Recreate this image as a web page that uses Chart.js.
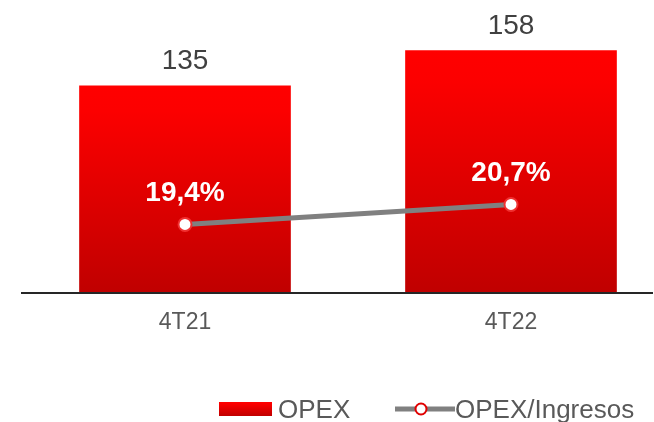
<!DOCTYPE html>
<html>
<head>
<meta charset="utf-8">
<script src="https://cdn.jsdelivr.net/npm/chart.js@4"></script>
<style>
  html, body { margin: 0; padding: 0; background: #fff; }
  canvas { display: block; }
</style>
</head>
<body>
<canvas id="chart" width="654" height="422"></canvas>
<script>
const categories = ['4T21', '4T22'];
const opex = [135, 158];
const opexRatio = [19.4, 20.7];
const legendLabels = ['OPEX', 'OPEX/Ingresos'];

const FONT = "'Liberation Sans', Arial, sans-serif";

function redGradient(ctx, top, bottom) {
  const g = ctx.createLinearGradient(0, top, 0, bottom);
  g.addColorStop(0, '#ff0000');
  g.addColorStop(0.12, '#fc0000');
  g.addColorStop(1, '#c00000');
  return g;
}

const fmtPct = v => v.toFixed(1).replace('.', ',') + '%';

const labelsPlugin = {
  id: 'labels',
  afterDatasetsDraw(chart) {
    const ctx = chart.ctx;
    const yScale = chart.scales.y;
    // baseline
    const base = yScale.getPixelForValue(0);
    ctx.save();
    ctx.strokeStyle = '#262626';
    ctx.lineWidth = 2;
    ctx.beginPath();
    ctx.moveTo(21, base + 1);
    ctx.lineTo(653, base + 1);
    ctx.stroke();

    // bar values
    const barMeta = chart.getDatasetMeta(1);
    ctx.font = '28px ' + FONT;
    ctx.fillStyle = '#404040';
    ctx.textAlign = 'center';
    ctx.textBaseline = 'alphabetic';
    barMeta.data.forEach((bar, i) => {
      ctx.fillText(String(opex[i]), bar.x, bar.y - 17);
    });

    // ratio values
    const lineMeta = chart.getDatasetMeta(0);
    ctx.font = 'bold 28px ' + FONT;
    ctx.fillStyle = '#ffffff';
    lineMeta.data.forEach((pt, i) => {
      ctx.fillText(fmtPct(opexRatio[i]), pt.x, pt.y - 23);
    });
    ctx.restore();
  },
  afterDraw(chart) {
    const ctx = chart.ctx;
    ctx.save();
    // OPEX box
    ctx.fillStyle = redGradient(ctx, 402, 416);
    ctx.fillRect(219, 402, 53, 14);
    ctx.font = '26px ' + FONT;
    ctx.fillStyle = '#595959';
    ctx.textAlign = 'left';
    ctx.textBaseline = 'alphabetic';
    ctx.fillText(legendLabels[0], 278, 418);

    // ratio line symbol
    ctx.strokeStyle = '#808080';
    ctx.lineWidth = 5;
    ctx.beginPath();
    ctx.moveTo(395, 409);
    ctx.lineTo(455, 409);
    ctx.stroke();
    ctx.beginPath();
    ctx.arc(421, 409, 5.5, 0, Math.PI * 2);
    ctx.fillStyle = '#ffffff';
    ctx.fill();
    ctx.lineWidth = 2;
    ctx.strokeStyle = '#e00000';
    ctx.stroke();
    ctx.fillStyle = '#595959';
    ctx.fillText(legendLabels[1], 455, 418);
    ctx.restore();
  }
};

new Chart(document.getElementById('chart'), {
  data: {
    labels: categories,
    datasets: [
      {
        type: 'line',
        label: legendLabels[1],
        data: opexRatio,
        yAxisID: 'y2',
        order: 0,
        clip: false,
        borderColor: '#808080',
        borderWidth: 5,
        pointRadius: 6.5,
        pointBackgroundColor: '#ffffff',
        pointBorderColor: '#f03030',
        pointBorderWidth: 2
      },
      {
        type: 'bar',
        label: legendLabels[0],
        data: opex,
        yAxisID: 'y',
        order: 1,
        clip: false,
        barThickness: 211,
        backgroundColor: (c) => {
          const chart = c.chart;
          if (!chart.chartArea || c.raw === undefined) return '#e00000';
          const y = chart.scales.y;
          return redGradient(chart.ctx, y.getPixelForValue(c.raw), y.getPixelForValue(0));
        }
      }
    ]
  },
  options: {
    responsive: false,
    animation: false,
    layout: { padding: { left: 185, right: 143, top: 17, bottom: 0 } },
    plugins: {
      legend: { display: false },
      tooltip: { enabled: false }
    },
    scales: {
      x: {
        offset: false,
        grid: { display: false, drawTicks: false },
        border: { display: false },
        ticks: {
          padding: 17,
          color: '#595959',
          font: { family: FONT, size: 23 }
        },
        afterFit: (scale) => { scale.height = 130; }
      },
      y: {
        display: false,
        min: 0,
        max: 180
      },
      y2: {
        display: false,
        min: 15,
        max: 32.9
      }
    }
  },
  plugins: [labelsPlugin]
});
</script>
</body>
</html>
